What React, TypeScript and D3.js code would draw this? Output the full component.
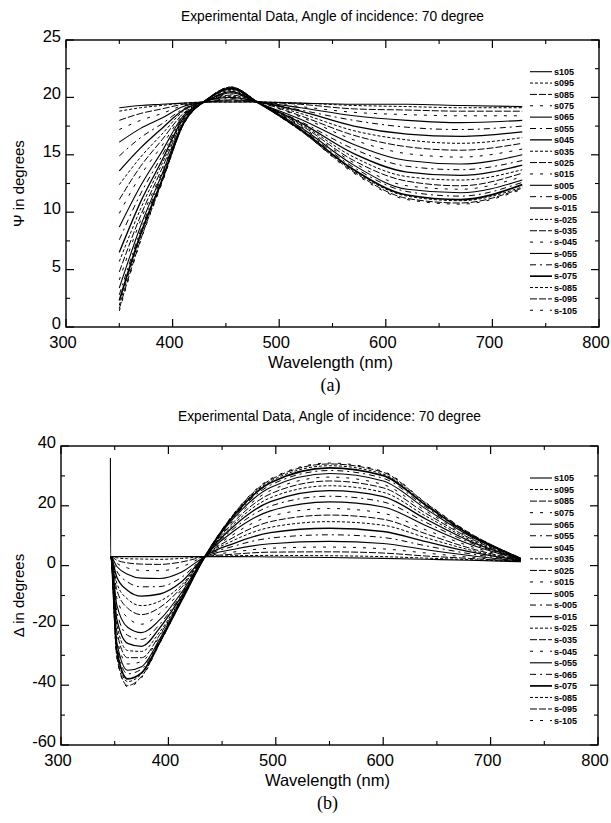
import React from "react";
import * as d3 from "d3";

const seriesNames = [
  "s105", "s095", "s085", "s075", "s065", "s055", "s045", "s035", "s025", "s015", "s005",
  "s-005", "s-015", "s-025", "s-035", "s-045", "s-055", "s-065", "s-075", "s-085", "s-095", "s-105",
];

// Panel (a): Psi in degrees
const psiWavelengths = [350, 370, 390, 410, 432, 455, 481, 520, 570, 620, 670, 728];
const psiValues: number[][] = [
  [19.1, 19.3, 19.4, 19.5, 19.6, 19.6, 19.6, 19.5, 19.4, 19.4, 19.3, 19.2],
  [18.8, 19.1, 19.3, 19.5, 19.6, 19.6, 19.6, 19.5, 19.3, 19.2, 19.1, 19.1],
  [18.0, 18.6, 19.0, 19.4, 19.6, 19.7, 19.6, 19.4, 19.0, 18.9, 18.8, 18.8],
  [17.2, 18.0, 18.6, 19.3, 19.6, 19.7, 19.6, 19.2, 18.7, 18.5, 18.4, 18.4],
  [16.1, 17.3, 18.2, 19.2, 19.6, 19.8, 19.6, 19.1, 18.4, 18.0, 17.8, 18.0],
  [14.9, 16.5, 17.7, 19.0, 19.6, 19.9, 19.6, 18.9, 18.0, 17.4, 17.2, 17.5],
  [13.6, 15.6, 17.3, 18.9, 19.7, 20.0, 19.6, 18.8, 17.5, 16.8, 16.6, 17.0],
  [12.4, 14.8, 16.8, 18.8, 19.7, 20.1, 19.6, 18.6, 17.1, 16.3, 16.0, 16.5],
  [11.1, 14.0, 16.3, 18.6, 19.7, 20.2, 19.6, 18.4, 16.7, 15.7, 15.4, 16.0],
  [9.9, 13.2, 15.8, 18.5, 19.7, 20.3, 19.6, 18.3, 16.3, 15.1, 14.8, 15.5],
  [8.7, 12.3, 15.3, 18.4, 19.7, 20.4, 19.5, 18.1, 15.9, 14.5, 14.2, 15.0],
  [7.6, 11.6, 14.9, 18.3, 19.7, 20.5, 19.5, 17.9, 15.5, 14.0, 13.7, 14.5],
  [6.5, 10.9, 14.5, 18.2, 19.7, 20.5, 19.5, 17.8, 15.1, 13.5, 13.2, 14.1],
  [5.7, 10.3, 14.2, 18.1, 19.8, 20.6, 19.5, 17.7, 14.8, 13.1, 12.8, 13.7],
  [4.8, 9.7, 13.8, 18.0, 19.8, 20.7, 19.5, 17.6, 14.5, 12.7, 12.3, 13.4],
  [4.1, 9.3, 13.5, 17.9, 19.8, 20.7, 19.5, 17.5, 14.3, 12.3, 12.0, 13.1],
  [3.4, 8.8, 13.3, 17.8, 19.8, 20.8, 19.5, 17.4, 14.1, 12.0, 11.7, 12.8],
  [2.8, 8.4, 13.1, 17.8, 19.8, 20.8, 19.5, 17.3, 13.9, 11.8, 11.4, 12.6],
  [2.3, 8.1, 12.8, 17.7, 19.8, 20.8, 19.5, 17.2, 13.7, 11.5, 11.1, 12.4],
  [1.9, 7.9, 12.7, 17.7, 19.8, 20.9, 19.5, 17.2, 13.6, 11.4, 11.0, 12.2],
  [1.6, 7.6, 12.6, 17.6, 19.8, 20.9, 19.5, 17.1, 13.5, 11.2, 10.8, 12.1],
  [1.4, 7.5, 12.5, 17.6, 19.8, 20.9, 19.5, 17.1, 13.4, 11.1, 10.7, 12.0],
];

// Panel (b): Delta in degrees
const deltaWavelengths = [346, 346.2, 352, 362, 375, 392, 412, 434, 460, 495, 550, 600, 640, 680, 728];
const deltaValues: number[][] = [
  [36, 3, 3, 3, 3, 3, 3, 3, 3, 2.9, 2.7, 2.4, 2.1, 1.8, 1.3],
  [3, 3, 2.6, 2.3, 2.2, 2.1, 2.4, 3, 3.3, 3.4, 3.3, 3.0, 2.5, 2.0, 1.3],
  [3, 3, 1.8, 0.9, 0.5, 0.4, 1.2, 3, 3.8, 4.5, 4.6, 4.2, 3.2, 2.4, 1.4],
  [3, 3, 0.8, -0.8, -1.6, -1.7, -0.4, 3, 4.5, 5.8, 6.2, 5.6, 4.2, 2.8, 1.4],
  [3, 3, -0.3, -2.9, -4.2, -4.3, -2.2, 3, 5.4, 7.3, 8.1, 7.4, 5.3, 3.4, 1.5],
  [3, 3, -1.9, -5.5, -7.1, -7.0, -4.0, 3, 6.4, 9.2, 10.3, 9.4, 6.6, 4.0, 1.6],
  [3, 3, -3.9, -8.3, -10.2, -9.5, -5.5, 3, 7.3, 11.0, 12.5, 11.4, 8.0, 4.7, 1.7],
  [3, 3, -5.9, -11.2, -13.4, -11.9, -6.6, 3, 8.3, 12.8, 14.7, 13.5, 9.3, 5.3, 1.8],
  [3, 3, -8.2, -14.2, -16.4, -14.0, -7.4, 3, 9.3, 14.7, 16.9, 15.5, 10.6, 5.9, 1.8],
  [3, 3, -10.8, -17.4, -19.6, -16.0, -8.1, 3, 10.3, 16.5, 19.1, 17.5, 11.9, 6.6, 1.9],
  [3, 3, -13.2, -20.6, -22.4, -18.1, -9.1, 3, 11.3, 18.3, 21.3, 19.6, 13.3, 7.2, 2.0],
  [3, 3, -15.4, -23.3, -24.7, -19.6, -9.7, 3, 12.1, 19.9, 23.2, 21.3, 14.4, 7.8, 2.1],
  [3, 3, -18.0, -26.0, -27.0, -20.8, -10.3, 3, 12.9, 21.4, 25.1, 23.1, 15.5, 8.3, 2.2],
  [3, 3, -19.8, -28.4, -28.7, -22.1, -10.9, 3, 13.6, 22.7, 26.7, 24.5, 16.5, 8.8, 2.2],
  [3, 3, -22.0, -30.8, -30.8, -23.1, -11.1, 3, 14.3, 24.0, 28.3, 26.0, 17.4, 9.3, 2.3],
  [3, 3, -24.0, -32.9, -32.1, -23.6, -11.4, 3, 14.9, 25.1, 29.6, 27.1, 18.2, 9.6, 2.3],
  [3, 3, -25.7, -35.0, -33.8, -24.5, -11.3, 3, 15.5, 26.1, 30.8, 28.3, 18.9, 10.0, 2.4],
  [3, 3, -27.0, -36.2, -34.6, -25.0, -11.8, 3, 15.9, 26.9, 31.8, 29.2, 19.5, 10.3, 2.4],
  [3, 3, -28.4, -37.9, -35.9, -25.5, -11.9, 3, 16.3, 27.7, 32.7, 30.1, 20.1, 10.5, 2.4],
  [3, 3, -29.5, -38.8, -36.2, -25.7, -11.8, 3, 16.6, 28.2, 33.4, 30.6, 20.4, 10.7, 2.5],
  [3, 3, -30.6, -40.1, -37.1, -25.9, -11.6, 3, 16.9, 28.7, 34.0, 31.2, 20.8, 11.0, 2.5],
  [3, 3, -31.0, -40.5, -37.5, -26.0, -12.0, 3, 17.0, 29.0, 34.3, 31.5, 21.0, 11.0, 2.5],
];

const xMajorTicks = [300, 400, 500, 600, 700, 800];
const xMinorTicks = [350, 450, 550, 650, 750];
const psiMajorTicks = [0, 5, 10, 15, 20, 25];
const psiMinorTicks = [2.5, 7.5, 12.5, 17.5, 22.5];
const deltaMajorTicks = [-60, -40, -20, 0, 20, 40];
const deltaMinorTicks = [-50, -30, -10, 10, 30];

const titleText = "Experimental Data,  Angle of incidence: 70 degree";

// line styles (cycle as in the original plotting program)
const dashStyles = [
  null, "3,2", "7,2", "3,7", null, "6,4,2,4", null, "3,2", "7,2", "3,7", null,
  "6,4,2,4", null, "3,2", "7,2", "3,7", null, "6,4,2,4", null, "3,2", "7,2", "3,7",
];
const lineWidths = [
  1.1, 1, 1, 1, 1.1, 1, 1.3, 1, 1, 1, 1.1, 1, 1.3, 1, 1, 1, 1.1, 1, 1.7, 1, 1, 1,
];

const SANS = "Arial, 'Liberation Sans', Helvetica, sans-serif";
const SERIF = "'Times New Roman', 'Liberation Serif', serif";

type Box = { l: number; r: number; t: number; b: number };

function Panel(props: {
  box: Box;
  wl: number[];
  values: number[][];
  yDomain: [number, number];
  yMajor: number[];
  yMinor: number[];
  yLabel: string;
  caption: string;
  titleY: number;
  legendTop: number;
  legendStep: number;
}) {
  const { box, wl, values, yDomain, yMajor, yMinor, yLabel, caption, titleY, legendTop, legendStep } = props;
  const x = d3.scaleLinear().domain([300, 800]).range([box.l, box.r]);
  const y = d3.scaleLinear().domain(yDomain).range([box.b, box.t]);
  const line = d3
    .line<[number, number]>()
    .x((d) => x(d[0]))
    .y((d) => y(d[1]))
    .curve(d3.curveMonotoneX);
  const majLen = 8;
  const minLen = 4;
  const legX0 = 530;
  const legX1 = 552;
  return (
    <g>
      <text x={(box.l + box.r) / 2} y={titleY} textAnchor="middle" fontFamily={SANS} fontSize={13.8} fill="#000">
        {titleText}
      </text>
      {values.map((vals, i) => (
        <path
          key={"s" + i}
          d={line(wl.map((w, j) => [w, vals[j]] as [number, number])) || ""}
          fill="none"
          stroke="#000"
          strokeWidth={lineWidths[i]}
          strokeDasharray={dashStyles[i] || undefined}
        />
      ))}
      <rect x={box.l} y={box.t} width={box.r - box.l} height={box.b - box.t} fill="none" stroke="#000" strokeWidth={1.4} />
      {xMajorTicks.map((t) => (
        <g key={"xm" + t}>
          <line x1={x(t)} x2={x(t)} y1={box.b} y2={box.b - majLen} stroke="#000" strokeWidth={1.2} />
          <line x1={x(t)} x2={x(t)} y1={box.t} y2={box.t + majLen} stroke="#000" strokeWidth={1.2} />
          <text x={x(t) - 3} y={box.b + 21} textAnchor="middle" fontFamily={SANS} fontSize={16.5} fill="#000">
            {t}
          </text>
        </g>
      ))}
      {xMinorTicks.map((t) => (
        <g key={"xn" + t}>
          <line x1={x(t)} x2={x(t)} y1={box.b} y2={box.b - minLen} stroke="#000" strokeWidth={1.1} />
          <line x1={x(t)} x2={x(t)} y1={box.t} y2={box.t + minLen} stroke="#000" strokeWidth={1.1} />
        </g>
      ))}
      {yMajor.map((t) => (
        <g key={"ym" + t}>
          <line x1={box.l} x2={box.l + majLen} y1={y(t)} y2={y(t)} stroke="#000" strokeWidth={1.2} />
          <line x1={box.r} x2={box.r - majLen} y1={y(t)} y2={y(t)} stroke="#000" strokeWidth={1.2} />
          <text x={box.l - 5} y={y(t) + 2} textAnchor="end" fontFamily={SANS} fontSize={16.5} fill="#000">
            {t}
          </text>
        </g>
      ))}
      {yMinor.map((t) => (
        <g key={"yn" + t}>
          <line x1={box.l} x2={box.l + minLen} y1={y(t)} y2={y(t)} stroke="#000" strokeWidth={1.1} />
          <line x1={box.r} x2={box.r - minLen} y1={y(t)} y2={y(t)} stroke="#000" strokeWidth={1.1} />
        </g>
      ))}
      <text
        transform={`translate(${24},${(box.t + box.b) / 2}) rotate(-90)`}
        textAnchor="middle"
        fontFamily={SANS}
        fontSize={15}
        fill="#000"
      >
        {yLabel}
      </text>
      <text x={(box.l + box.r) / 2 - 2} y={box.b + 40.5} textAnchor="middle" fontFamily={SANS} fontSize={16.5} fill="#000">
        Wavelength (nm)
      </text>
      <text x={(box.l + box.r) / 2 - 2} y={box.b + 64} textAnchor="middle" fontFamily={SERIF} fontSize={18} fill="#000">
        {caption}
      </text>
      {seriesNames.map((name, i) => {
        const ly = legendTop + i * legendStep;
        return (
          <g key={"lg" + i}>
            <line
              x1={legX0}
              x2={legX1}
              y1={ly}
              y2={ly}
              stroke="#000"
              strokeWidth={lineWidths[i]}
              strokeDasharray={dashStyles[i] || undefined}
            />
            <text x={legX1 + 2} y={ly + 3.3} fontFamily={SANS} fontSize={9} fontWeight="bold" fill="#000">
              {name}
            </text>
          </g>
        );
      })}
    </g>
  );
}

export default function App() {
  return (
    <svg
      width={611}
      height={823}
      style={{ position: "absolute", left: 0, top: 0, display: "block", background: "#fff" }}
    >
      <rect x={0} y={0} width={611} height={823} fill="#fff" />
      <Panel
        box={{ l: 66, r: 599, t: 40, b: 327 }}
        wl={psiWavelengths}
        values={psiValues}
        yDomain={[0, 25]}
        yMajor={psiMajorTicks}
        yMinor={psiMinorTicks}
        yLabel="Ψ in degrees"
        caption="(a)"
        titleY={21}
        legendTop={71.7}
        legendStep={11.36}
      />
      <Panel
        box={{ l: 61, r: 598, t: 446, b: 745 }}
        wl={deltaWavelengths}
        values={deltaValues}
        yDomain={[-60, 40]}
        yMajor={deltaMajorTicks}
        yMinor={deltaMinorTicks}
        yLabel="Δ in degrees"
        caption="(b)"
        titleY={421}
        legendTop={478}
        legendStep={11.55}
      />
    </svg>
  );
}
